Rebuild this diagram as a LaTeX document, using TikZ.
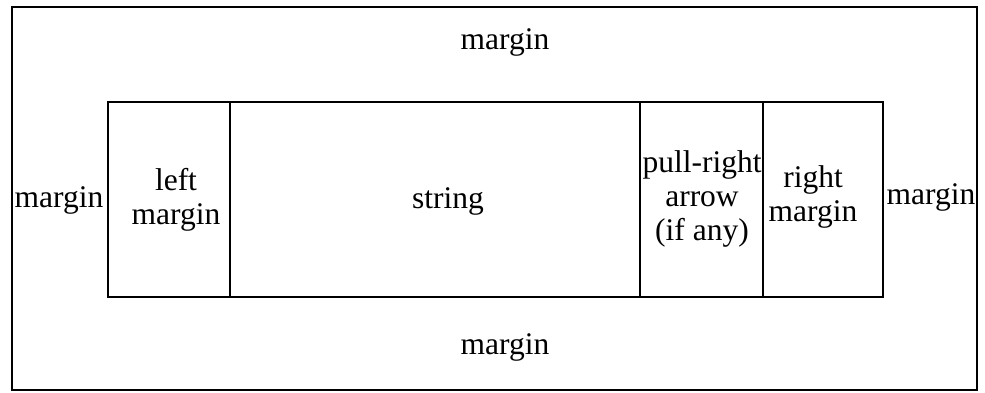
\documentclass[tikz,border=0pt]{standalone}
\usepackage{fontspec}
\setmainfont{Liberation Serif}
\begin{document}
\begin{tikzpicture}[x=1pt,y=-1pt,
  box/.style={draw=black,line width=2pt},
  lbl/.style={font=\fontsize{31.5}{34}\selectfont,align=center,inner sep=0pt}]
\useasboundingbox (0,0) rectangle (985,392);
\draw[box] (12,7) rectangle (977,390);
\draw[box] (108,102) rectangle (883,297);
\draw[box] (230,102) -- (230,297);
\draw[box] (640,102) -- (640,297);
\draw[box] (763,102) -- (763,297);
\node[lbl] (mtop) at (505,42) {margin};
\node[lbl] (mbot) at (505,347) {margin};
\node[lbl] (mleft) at (59,200) {margin};
\node[lbl] (mright) at (931,197) {margin};
\node[lbl] (lm) at (176,200) {left\\margin};
\node[lbl] (str) at (448,201) {string};
\node[lbl] (pr) at (702,199) {pull-right\\arrow\\(if any)};
\node[lbl] (rm) at (813,197) {right\\margin};
\end{tikzpicture}
\end{document}
